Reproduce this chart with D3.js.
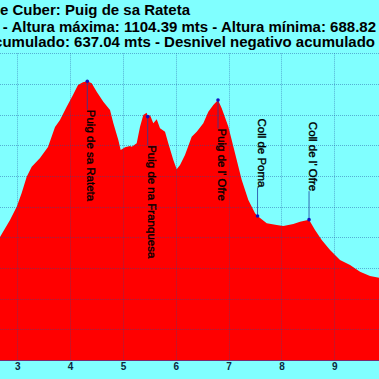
<!DOCTYPE html>
<html><head><meta charset="utf-8">
<script src="https://cdn.jsdelivr.net/npm/d3@7"></script>
<style>html,body{margin:0;padding:0;background:#80ffff;overflow:hidden}</style>
</head><body><svg id="c" width="379" height="379"></svg>
<script>
// ---- data ----
const titleLines = [
  "Embalse de Cuber: Puig de sa Rateta",
  "- Altura máxima: 1104.39 mts - Altura mínima: 688.82",
  "Desnivel positivo acumulado: 637.04 mts - Desnivel negativo acumulado"
];
const distanceKm = [2.55, 2.672, 2.862, 2.989, 3.083, 3.178, 3.273, 3.43, 3.581, 3.714, 3.808, 3.935, 4.054, 4.149, 4.243, 4.325, 4.408, 4.503, 4.628, 4.755, 4.817, 4.912, 4.957, 5.039, 5.133, 5.166, 5.26, 5.323, 5.385, 5.449, 5.468, 5.512, 5.574, 5.639, 5.701, 5.796, 5.858, 5.953, 6.017, 6.08, 6.174, 6.301, 6.396, 6.521, 6.616, 6.71, 6.799, 6.869, 6.995, 7.121, 7.248, 7.373, 7.5, 7.547, 7.721, 7.91, 8.035, 8.225, 8.351, 8.522, 8.635, 8.762, 8.919, 9.108, 9.298, 9.487, 9.676, 9.846, 9.95];
const elevationM = [833, 850.5, 878.3, 900, 922.3, 948.9, 965.2, 979.3, 997.3, 1029.9, 1041.3, 1063, 1082, 1098.4, 1102.8, 1104.39, 1101.1, 1087.4, 1071.1, 1057.6, 1036.4, 1008.7, 992.4, 996.8, 998.9, 997.8, 1003.3, 1030.4, 1049.4, 1053.2, 1046.7, 1049.4, 1035.9, 1042.4, 1027.7, 1022.2, 1003.3, 976.1, 961, 968, 984.3, 1014.1, 1022.2, 1035.9, 1054.8, 1065.8, 1073.9, 1060.4, 1030.4, 987, 943.5, 910.9, 889.2, 884.8, 872.9, 870.1, 868.5, 871.7, 875.5, 878.8, 862, 845.7, 829.3, 813, 804.9, 794, 787, 784.2, 782];
const xTicks = [3, 4, 5, 6, 7, 8, 9];
const yGrid = [650, 700, 750, 800, 850, 900, 950, 1000, 1050, 1100, 1150];
const placeNames = ["Puig de sa Rateta", "Puig de na Franquesa", "Puig de l' Ofre", "Coll de Poma", "Coll de l' Ofre"];
const placeKm = [4.325, 5.468, 6.799, 7.547, 8.522];
const placeElev = [1104.39, 1046.7, 1073.9, 884.8, 878.8];
const placeKind = ["peak", "peak", "peak", "col", "col"];

// ---- chart ----
const svg = d3.select("#c");
const x = d3.scaleLinear().domain([3, 9]).range([17.3, 334.3]);
const y = d3.scaleLinear().domain([650, 1150]).range([360, 53.3]);
const pts = distanceKm.map((d, i) => [d, elevationM[i]]);

svg.append("rect").attr("width", 379).attr("height", 379).attr("fill", "#80ffff");

svg.append("path")
  .datum(pts)
  .attr("fill", "#ff0000")
  .attr("d", d3.area().x(d => x(d[0])).y0(y(650)).y1(d => y(d[1])));

// grid
const g = svg.append("g").attr("stroke", "#2050a0").attr("stroke-opacity", 0.45).attr("stroke-width", 1).attr("stroke-dasharray", "1,1");
g.selectAll("line.v").data(xTicks).join("line")
  .attr("x1", d => Math.round(x(d)) + 0.5).attr("x2", d => Math.round(x(d)) + 0.5)
  .attr("y1", y(1150)).attr("y2", y(650));
g.selectAll("line.h").data(yGrid).join("line")
  .attr("x1", -20).attr("x2", 400)
  .attr("y1", d => Math.round(y(d)) + 0.5).attr("y2", d => Math.round(y(d)) + 0.5);

svg.append("line").attr("x1", -20).attr("x2", 400)
  .attr("y1", Math.round(y(650)) + 0.5).attr("y2", Math.round(y(650)) + 0.5)
  .attr("stroke", "#7a2a70").attr("stroke-width", 1);

// x axis
const ax = svg.append("g").attr("transform", `translate(0,${y(650)})`)
  .call(d3.axisBottom(x).tickValues(xTicks).tickSize(0).tickPadding(0).tickFormat(d3.format("d")));
ax.select(".domain").remove();
ax.selectAll("text").attr("dy", "9.5px").attr("font-family", "Liberation Sans, Arial, sans-serif")
  .attr("font-size", "10px").attr("font-weight", "bold").attr("fill", "#0a2a40");

// place markers
const places = placeNames.map((n, i) => ({ n, km: placeKm[i], e: placeElev[i], k: placeKind[i] }));
const gap = 28.5;
svg.selectAll("line.pl").data(places).join("line")
  .attr("x1", d => x(d.km)).attr("x2", d => x(d.km))
  .attr("y1", d => y(d.e))
  .attr("y2", d => d.k === "peak" ? y(d.e) + gap : y(d.e) - gap)
  .attr("stroke", "#2040a0").attr("stroke-width", 0.8);
svg.selectAll("circle.pl").data(places).join("circle")
  .attr("cx", d => x(d.km)).attr("cy", d => y(d.e)).attr("r", 1.8).attr("fill", "#1010c0");
svg.selectAll("text.pl").data(places).join("text")
  .attr("transform", d => `translate(${x(d.km)},${d.k === "peak" ? y(d.e) + gap : y(d.e) - gap}) rotate(90)`)
  .attr("text-anchor", d => d.k === "peak" ? "start" : "end")
  .attr("font-family", "Liberation Sans, Arial, sans-serif").attr("font-size", "11.5px")
  .attr("fill", "#000").attr("stroke", "#000").attr("stroke-width", 0.35).text(d => d.n);

// title
const tEnds = [190, 376, 375];
const tBase = [15, 31.5, 47];
svg.selectAll("text.t").data(titleLines).join("text")
  .attr("x", (d, i) => tEnds[i]).attr("y", (d, i) => tBase[i])
  .attr("text-anchor", "end")
  .attr("font-family", "Liberation Sans, Arial, sans-serif").attr("font-size", "15px").attr("font-weight", "bold")
  .attr("fill", "#000").text(d => d);
</script></body></html>
